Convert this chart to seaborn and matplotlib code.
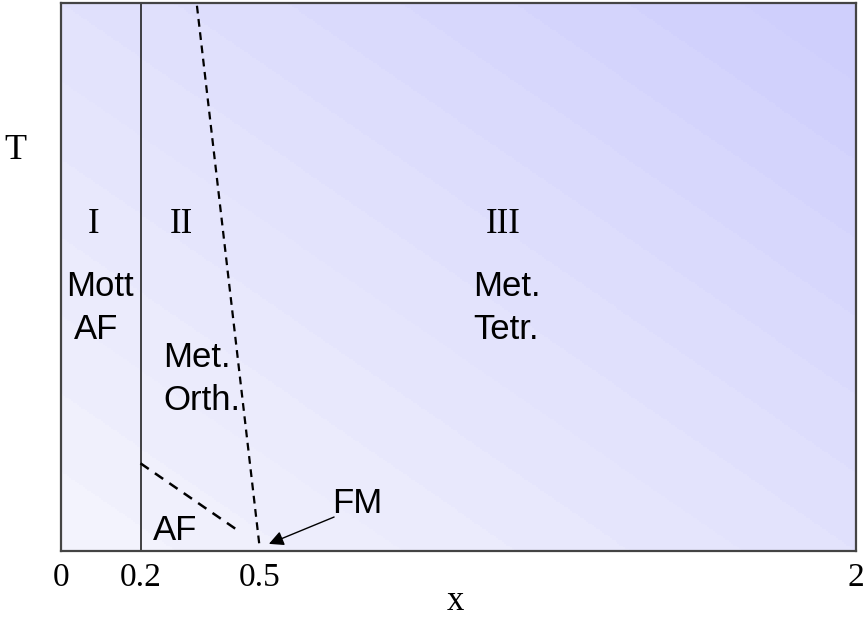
import numpy as np
import matplotlib
matplotlib.use("Agg")
import matplotlib.pyplot as plt
import seaborn as sns
from matplotlib.colors import LinearSegmentedColormap

sns.set_theme(style="white")
plt.rcParams["text.color"] = "black"
plt.rcParams["xtick.color"] = "black"
plt.rcParams["axes.labelcolor"] = "black"

# ---- data (schematic phase diagram) ----
tick_pos = [0, 0.2, 0.5, 2]
tick_labels = ["0", "0.2", "0.5", "2"]
boundary_x = [0.2, 0.2]          # solid Mott boundary
boundary_y = [0.0, 1.0]
steep_x = [0.342, 0.5]           # dashed orth/tetr boundary
steep_y = [0.995, 0.005]
af_x = [0.2, 0.45]               # dashed AF dome
af_y = [0.16, 0.035]
arrow_tail = (0.687, 0.062)
arrow_head = (0.523, 0.013)

roman_labels = ["I", "II", "III"]
roman_x = [0.082, 0.304, 1.112]
roman_y = 0.581

fig = plt.figure(figsize=(8.66, 6.19), dpi=100)
ax = fig.add_axes([61/866, 1-551/619, 795/866, 548/619])
ax.set_xlim(0, 2)
ax.set_ylim(0, 1)

# gradient background with diagonal bands
nb = 14
u = np.linspace(0, 1, 400)
v = np.linspace(0, 1, 300)
U, V = np.meshgrid(u, v)
G = np.floor((U + V) / 2 * nb) / (nb - 1)
cmap = LinearSegmentedColormap.from_list("bg", ["#F3F3FD", "#E2E2FC", "#CFCFFC"])
ax.imshow(G, cmap=cmap, extent=[0, 2, 0, 1], origin="lower", aspect="auto",
          vmin=0, vmax=1, zorder=0, interpolation="nearest")

sns.lineplot(x=boundary_x, y=boundary_y, ax=ax, color="#222222", lw=1.2,
             sort=False, estimator=None)
sns.lineplot(x=steep_x, y=steep_y, ax=ax, color="black", lw=1.6,
             sort=False, estimator=None, linestyle=(0, (3.5, 2.5)))
sns.lineplot(x=af_x, y=af_y, ax=ax, color="black", lw=1.8,
             sort=False, estimator=None, linestyle=(0, (4, 3)))

ax.annotate("", xy=arrow_head, xytext=arrow_tail,
            arrowprops=dict(arrowstyle="-|>", color="black", lw=1.0,
                            mutation_scale=22, shrinkA=0, shrinkB=0))

serif = "Liberation Serif"
sans = "Liberation Sans"
for lab, xx in zip(roman_labels, roman_x):
    ax.text(xx, roman_y, lab, family=serif, fontsize=25, ha="center", va="baseline")

ax.text(0.097, 0.4645, "Mott", family=sans, fontsize=25, ha="center", va="baseline")
ax.text(0.089, 0.386, "AF", family=sans, fontsize=25, ha="center", va="baseline")
ax.text(0.257, 0.335, "Met.", family=sans, fontsize=25, ha="left", va="baseline")
ax.text(0.257, 0.257, "Orth.", family=sans, fontsize=25, ha="left", va="baseline")
ax.text(1.036, 0.4645, "Met.", family=sans, fontsize=25, ha="left", va="baseline")
ax.text(1.036, 0.386, "Tetr.", family=sans, fontsize=25, ha="left", va="baseline")
ax.text(0.287, 0.020, "AF", family=sans, fontsize=25, ha="center", va="baseline")
ax.text(0.745, 0.069, "FM", family=sans, fontsize=25, ha="center", va="baseline")

ax.set_xticks(tick_pos)
ax.set_xticklabels(tick_labels, family=serif, fontsize=24)
ax.set_yticks([])
ax.tick_params(axis="x", length=0, pad=8)
ax.set_xlabel("x", family=serif, fontsize=25)
ax.set_ylabel("T", family=serif, fontsize=26, rotation=0)
ax.xaxis.set_label_coords(0.496, -0.062)
ax.yaxis.set_label_coords(-0.058, 0.70)

for s in ax.spines.values():
    s.set_visible(True)
    s.set_color("#444444")
    s.set_linewidth(1.6)

fig.savefig("out.png", dpi=100)
